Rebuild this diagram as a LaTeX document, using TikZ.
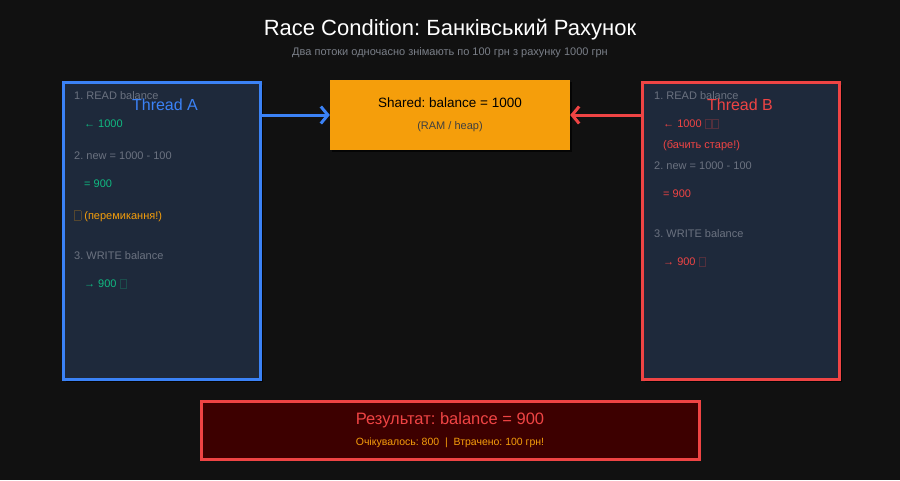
\documentclass[tikz,border=0pt]{standalone}
\usepackage{fontspec}
\setmainfont{Liberation Sans}
\usetikzlibrary{arrows.meta,shadows}

\definecolor{bgdark}{HTML}{111111}
\definecolor{panel}{HTML}{1E293B}
\definecolor{threadblue}{HTML}{3B82F6}
\definecolor{threadred}{HTML}{EF4444}
\definecolor{sharedamber}{HTML}{F59E0B}
\definecolor{stepgray}{HTML}{6B7280}
\definecolor{okgreen}{HTML}{10B981}
\definecolor{resultbg}{HTML}{3D0000}
\definecolor{subgray}{HTML}{7A7F88}

\tikzset{
  boxshadow/.style={drop shadow={shadow xshift=2pt,shadow yshift=-2pt,fill=black,opacity=0.7}},
  panelbox/.style={draw=#1,line width=3pt,fill=panel,minimum width=197pt,minimum height=297pt,
    inner sep=0,anchor=north west,boxshadow},
  steptext/.style={anchor=west,inner sep=0,text=stepgray,font=\fontsize{11}{13}\selectfont},
  valtext/.style={anchor=west,inner sep=0,text=#1,font=\fontsize{11}{13}\selectfont},
  flowarrow/.style={draw=#1,line width=3pt,-{Straight Barb[length=7pt,width=17pt]}},
}
\providecommand{\tofu}[1]{{\color{#1!25!panel}\setlength{\fboxsep}{0pt}\setlength{\fboxrule}{0.8pt}%
  \raisebox{-0.5pt}{\fbox{\rule{0pt}{8.5pt}\rule{5.5pt}{0pt}}}}}

\begin{document}
\frenchspacing
\begin{tikzpicture}[x=1pt,y=-1pt]
    \pgfmathsetmacro{\leftx}{62}
    \pgfmathsetmacro{\rightx}{641}
    \pgfmathsetmacro{\topy}{81}
    \providecommand{\titlefontsize}{\fontsize{22}{26}\selectfont}
    \providecommand{\threadfontsize}{\fontsize{16}{19}\selectfont}
    \providecommand{\smallfontsize}{\fontsize{11}{13}\selectfont}
    \fill[bgdark] (0,0) rectangle (900,480);
    \useasboundingbox (0,0) rectangle (900,480);
    \node[text=white,font=\titlefontsize] (title) at (450,30) {Race Condition: Банківський Рахунок};
    \node[text=subgray,font=\smallfontsize] (subtitle) at (450,53) {Два потоки одночасно знімають по 100 грн з рахунку 1000 грн};

    % shared memory
    \node[fill=sharedamber,minimum width=240pt,minimum height=70pt,inner sep=0,boxshadow] (shared) at (450,115) {};
    \node[text=black,font=\fontsize{13.5}{16}\selectfont] (sharedtitle) at (450,103) {Shared: balance = 1000};
    \node[text=black!75,font=\smallfontsize] (sharedsub) at (450,127) {(RAM / heap)};

    % thread A
    \node[panelbox=threadblue] (threadA) at (\leftx,\topy) {};
    \node[steptext] (a1) at (\leftx+12,96) {1. READ balance};
    \node[text=threadblue,font=\threadfontsize] (threadAname) at (165,105) {Thread A};
    \node[valtext=okgreen] (a2) at (\leftx+22,124) {← 1000};
    \node[steptext] (a3) at (\leftx+12,156) {2. new = 1000 - 100};
    \node[valtext=okgreen] (a4) at (\leftx+22,184) {= 900};
    \node[valtext=sharedamber] (a5) at (\leftx+12,216) {\tofu{sharedamber} (перемикання!)};
    \node[steptext] (a6) at (\leftx+12,256) {3. WRITE balance};
    \node[valtext=okgreen] (a7) at (\leftx+22,284) {→ 900 \tofu{okgreen}};

    % thread B
    \node[panelbox=threadred] (threadB) at (\rightx,\topy) {};
    \node[steptext] (b1) at (\rightx+13,96) {1. READ balance};
    \node[text=threadred,font=\threadfontsize] (threadBname) at (740,105) {Thread B};
    \node[valtext=threadred] (b2) at (\rightx+22,124) {← 1000 \tofu{threadred}\tofu{threadred}};
    \node[valtext=threadred] (b3) at (\rightx+22,146) {(бачить старе!)};
    \node[steptext] (b4) at (\rightx+13,166) {2. new = 1000 - 100};
    \node[valtext=threadred] (b5) at (\rightx+22,194) {= 900};
    \node[steptext] (b6) at (\rightx+13,234) {3. WRITE balance};
    \node[valtext=threadred] (b7) at (\rightx+22,262) {→ 900 \tofu{threadred}};

    \draw[flowarrow=threadblue] (threadA.east |- shared.west) -- (shared.west);
    \draw[flowarrow=threadred] (threadB.west |- shared.east) -- (shared.east);

    % result
    \node[draw=threadred,line width=3pt,fill=resultbg,minimum width=498pt,minimum height=58pt,inner sep=0,boxshadow] (result) at (450,430) {};
    \node[text=threadred,font=\fontsize{16.5}{20}\selectfont] (resulttitle) at (450,420) {Результат: balance = 900};
    \node[text=sharedamber,font=\fontsize{10.5}{13}\selectfont] (resultsub) at (450,443) {Очікувалось: 800 ~|~ Втрачено: 100 грн!};
\end{tikzpicture}
\end{document}
